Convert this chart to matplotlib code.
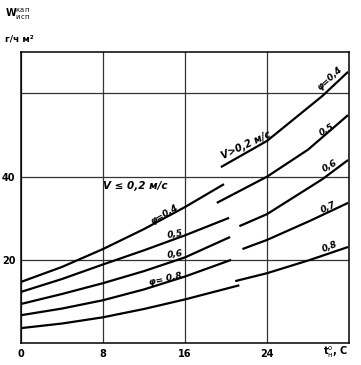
import matplotlib
matplotlib.use("Agg")
import matplotlib.pyplot as plt

# evaporation vs air temperature, curves
# V <= 0.2 m/s (lower family)
low_t = [0, 4, 8, 12, 16, 19.8]
low_04 = [14.7, 18.3, 22.6, 27.4, 32.7, 38.2]
low_t5 = [0, 4, 8, 12, 16, 20.3]
low_05 = [12.3, 15.4, 18.9, 22.3, 25.9, 30.1]
low_t6 = [0, 4, 8, 12, 16, 20.4]
low_06 = [9.4, 11.8, 14.4, 17.3, 20.6, 25.5]
low_t7 = [0, 4, 8, 12, 16, 20.5]
low_07 = [6.7, 8.3, 10.3, 12.9, 16.0, 20.0]
low_t8 = [0, 4, 8, 12, 16, 21.3]
low_08 = [3.6, 4.7, 6.2, 8.2, 10.5, 13.9]

# V > 0.2 m/s (upper family)
up_t4 = [19.5, 24, 29.4, 31.9]
up_04 = [42.3, 48.6, 59.4, 65.2]
up_t5 = [19.1, 24, 28, 31.9]
up_05 = [33.7, 40.0, 46.5, 54.8]
up_t6 = [21.3, 24, 29.4, 31.9]
up_06 = [28.1, 31.0, 39.4, 44.0]
up_t7 = [21.6, 24, 28.2, 31.9]
up_07 = [22.6, 24.8, 29.4, 33.7]
up_t8 = [20.9, 24, 28.2, 31.9]
up_08 = [14.9, 16.8, 20.0, 23.1]

x_ticks = [0, 8, 16, 24]
x_labels = ["0", "8", "16", "24"]
y_ticks = [20, 40, 60]
y_labels = ["20", "40", ""]

fig = plt.figure(figsize=(3.61, 3.65), dpi=100)
ax = fig.add_axes([0.058, 0.060, 0.909, 0.798])

lw = 1.6
for t, v in [(low_t, low_04), (low_t5, low_05), (low_t6, low_06),
             (low_t7, low_07), (low_t8, low_08),
             (up_t4, up_04), (up_t5, up_05), (up_t6, up_06),
             (up_t7, up_07), (up_t8, up_08)]:
    ax.plot(t, v, color="black", lw=lw, solid_capstyle="butt",
            solid_joinstyle="round")

ax.set_xlim(0, 32)
ax.set_ylim(0, 70)
ax.set_xticks(x_ticks)
ax.set_xticklabels(x_labels)
ax.set_yticks(y_ticks)
ax.set_yticklabels(y_labels)
ax.tick_params(length=0, labelsize=7, pad=4)
for lab in ax.get_xticklabels() + ax.get_yticklabels():
    lab.set_fontweight("bold")
ax.grid(True, color="#333333", lw=0.9)
for s in ax.spines.values():
    s.set_linewidth(1.1)

fs = 6.5
kw = dict(fontsize=fs, fontweight="bold", ha="center", va="center", style="italic")
ax.text(11.1, 37.8, "V ≤ 0,2 м/с", fontsize=7.5, fontweight="bold",
        ha="center", va="center", style="italic")
ax.text(14.0, 30.8, "φ=0,4", rotation=30, **kw)
ax.text(15.0, 26.2, "0,5", rotation=8, **kw)
ax.text(15.0, 21.4, "0,6", rotation=8, **kw)
ax.text(14.1, 15.4, "φ= 0,8", rotation=12, **kw)
ax.text(22.0, 47.6, "V>0,2 м/с", rotation=25, fontsize=7, fontweight="bold",
        ha="center", va="center", style="italic")
ax.text(30.1, 63.7, "φ=0,4", rotation=42, **kw)
ax.text(29.8, 51.2, "0,5", rotation=30, **kw)
ax.text(30.1, 42.6, "0,6", rotation=30, **kw)
ax.text(30.0, 32.7, "0,7", rotation=25, **kw)
ax.text(30.1, 23.1, "0,8", rotation=22, **kw)

fig.text(0.015, 0.96, r"W$_{\mathrm{исп}}^{\mathrm{кап}}$", fontsize=7,
         fontweight="bold", ha="left", va="center")
fig.text(0.015, 0.893, "г/ч м²", fontsize=6.5, fontweight="bold",
         ha="left", va="center")
fig.text(0.93, 0.035, r"t$_{\mathrm{н}}^{\mathrm{o}}$, С", fontsize=7,
         fontweight="bold", ha="center", va="center")

fig.savefig("out.png", dpi=100)
